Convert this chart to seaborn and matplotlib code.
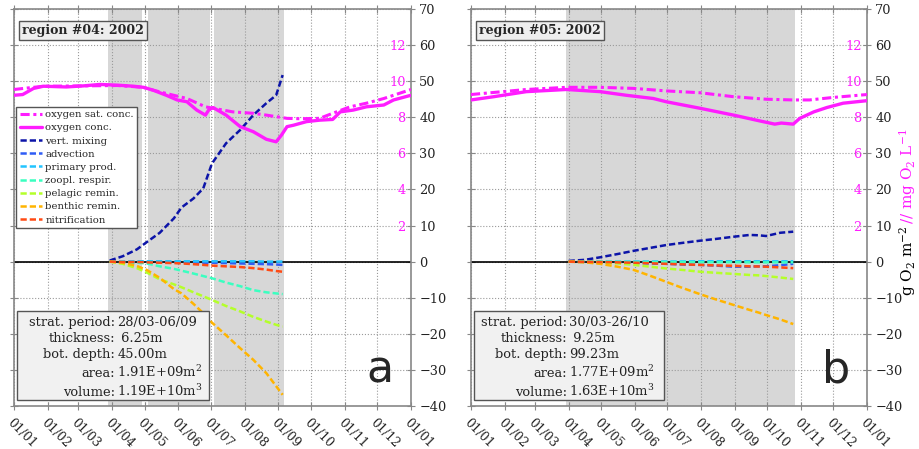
import numpy as np
import pandas as pd
import matplotlib
matplotlib.use("Agg")
import matplotlib.pyplot as plt
import seaborn as sns
from matplotlib.patches import Rectangle

sns.set_style("white")
plt.rcParams["font.family"] = ["DejaVu Serif"]
plt.rcParams["mathtext.fontset"] = "dejavuserif"

# month starts (day of year, 0-based) and tick labels
month_days = [0, 31, 59, 90, 120, 151, 181, 212, 243, 273, 304, 334, 365]
month_labels = ["01/01", "01/02", "01/03", "01/04", "01/05", "01/06", "01/07",
                "01/08", "01/09", "01/10", "01/11", "01/12", "01/01"]

# ---- region #04 ----
r04_conc_day = [0, 8, 18, 27, 48, 64, 79, 95, 110, 119, 128, 140, 150, 159, 168, 176, 179,
                183, 195, 208, 220, 232, 241, 246, 251, 257, 269, 281, 293, 300, 312, 324,
                340, 349, 365]
r04_conc = [46.1, 46.3, 48.0, 48.6, 48.4, 48.7, 49.1, 48.9, 48.6, 48.3, 47.5, 46.1, 44.8,
            44.3, 42.0, 40.6, 42.0, 42.7, 40.6, 37.4, 36.0, 33.9, 33.2, 35.1, 37.4, 37.8,
            38.8, 39.2, 39.4, 41.5, 42.0, 42.9, 43.4, 44.8, 46.1]
r04_sat_day = [0, 18, 27, 64, 95, 119, 128, 140, 159, 176, 201, 220, 232, 251, 263, 281,
               293, 309, 324, 340, 365]
r04_sat = [47.7, 48.3, 48.6, 48.7, 48.8, 48.3, 47.5, 46.6, 45.2, 42.9, 41.5, 41.1, 40.6,
           39.7, 39.6, 39.7, 41.1, 42.9, 43.9, 45.2, 47.7]
r04_day = [88, 100, 113, 122, 134, 147, 154, 165, 174, 182, 195, 208, 220, 232, 241, 247]
r04_mixing = [0.3, 1.5, 3.4, 5.4, 8.0, 12.0, 15.0, 17.5, 20.3, 27.2, 32.8, 36.5, 40.6,
              43.9, 46.1, 51.7]
r04_advection = [0, -0.1, -0.1, -0.1, -0.2, -0.2, -0.2, -0.3, -0.3, -0.3, -0.4, -0.5,
                 -0.6, -0.7, -0.8, -0.9]
r04_primary = [0, 0, 0.1, 0.1, 0.1, 0.1, 0.1, 0.1, 0.1, 0.1, 0.1, 0.1, 0.1, 0.0, 0.0, 0.0]
r04_zoopl = [0, -0.1, -0.3, -0.5, -1.3, -2.0, -2.5, -3.3, -4.0, -4.6, -5.8, -6.8, -7.9,
             -8.5, -8.8, -9.0]
r04_pelagic = [0, -0.6, -1.8, -3.0, -4.9, -6.3, -7.1, -8.5, -9.6, -10.6, -12.3, -13.8,
               -15.3, -16.6, -17.5, -18.0]
r04_benthic = [0, -0.3, -1.2, -2.3, -4.5, -7.6, -8.8, -11.7, -14.3, -16.9, -20.4, -24.0,
               -27.2, -30.9, -34.5, -36.9]
r04_nitrif = [0, -0.1, -0.1, -0.2, -0.3, -0.4, -0.5, -0.7, -0.9, -1.1, -1.3, -1.5, -1.8,
              -2.2, -2.6, -2.8]
r04_strat = [(86, 118), (123, 180), (184, 248)]
r04_info = ["28/03-06/09", " 6.25m", "45.00m", "1.91E+09m$^2$", "1.19E+10m$^3$"]

# ---- region #05 ----
r05_conc_day = [0, 21, 51, 88, 119, 143, 168, 180, 211, 242, 266, 280, 286, 297, 303, 316,
                328, 343, 365]
r05_conc = [44.8, 45.7, 47.1, 47.7, 47.1, 46.1, 45.2, 44.3, 42.5, 40.6, 39.0, 38.1, 38.4,
            38.1, 39.7, 41.5, 42.7, 43.9, 44.6]
r05_sat_day = [0, 51, 88, 119, 150, 180, 211, 242, 272, 297, 312, 334, 365]
r05_sat = [46.3, 47.7, 48.3, 48.3, 48.0, 47.3, 46.8, 45.7, 45.0, 44.8, 44.8, 45.5, 46.3]
r05_day = [90, 105, 119, 135, 150, 165, 180, 195, 211, 226, 242, 257, 265, 272, 285, 297]
r05_mixing = [0.2, 0.5, 1.2, 2.1, 3.0, 3.8, 4.6, 5.2, 5.8, 6.3, 6.9, 7.4, 7.3, 7.1, 8.0, 8.3]
r05_advection = [0, -0.1, -0.2, -0.2, -0.3, -0.5, -0.6, -0.8, -0.9, -1.1, -1.4, -1.4,
                 -1.3, -1.3, -1.0, -0.6]
r05_primary = [0, 0, 0, 0, 0.05, 0.05, 0.05, 0.05, 0.1, 0.1, 0.1, 0.1, 0.1, 0.1, 0.1, 0.1]
r05_zoopl = [0, 0, 0, -0.05, -0.1, -0.1, -0.1, -0.1, -0.15, -0.15, -0.15, -0.2, -0.2,
             -0.2, -0.2, -0.2]
r05_pelagic = [0, -0.1, -0.2, -0.5, -0.9, -1.4, -1.9, -2.3, -2.8, -3.1, -3.4, -3.7, -3.8,
               -4.0, -4.4, -4.8]
r05_benthic = [0, -0.2, -0.6, -1.4, -2.3, -3.9, -5.6, -7.3, -9.0, -10.5, -12.0, -13.4,
               -14.1, -14.8, -16.0, -17.3]
r05_nitrif = [0, -0.05, -0.1, -0.2, -0.3, -0.45, -0.6, -0.75, -0.9, -1.05, -1.15, -1.3,
              -1.35, -1.4, -1.6, -1.8]
r05_strat = [(88, 299)]
r05_info = ["30/03-26/10", " 9.25m", "99.23m", "1.77E+09m$^2$", "1.63E+10m$^3$"]

info_labels = ["strat. period:", "thickness:", "bot. depth:", "area:", "volume:"]
term_names = ["vert. mixing", "advection", "primary prod.", "zoopl. respir.",
              "pelagic remin.", "benthic remin.", "nitrification"]
term_colors = ["#0c14a8", "#2f5cf5", "#22c4ff", "#3affc0", "#b4ff2a", "#ffb400", "#ff4a14"]
magenta = "#ff1cff"


def draw_panel(ax, title, letter, conc_day, conc, sat_day, sat, day, terms, strat, info,
               colon_x, box_x1, legend=False):
    for a, b in strat:
        ax.axvspan(a, b, color="#d7d7d7", lw=0, zorder=0)
    ax.axhline(0, color="black", lw=1.2, zorder=1.5)

    sns.lineplot(x=sat_day, y=sat, ax=ax, color=magenta, lw=2.2,
                 label="oxygen sat. conc.", zorder=3)
    ax.lines[-1].set_dashes([3, 1.2, 1, 1.2])
    sns.lineplot(x=conc_day, y=conc, ax=ax, color=magenta, lw=2.4,
                 label="oxygen conc.", zorder=3)
    for name, col, vals in zip(term_names, term_colors, terms):
        sns.lineplot(x=day, y=vals, ax=ax, color=col, lw=1.8, label=name, zorder=2.5)
        ax.lines[-1].set_dashes([2.5, 1.2])

    ax.set_xlim(0, 365)
    ax.set_ylim(-40, 70)
    ax.set_xticks(month_days)
    ax.set_xticklabels(month_labels, rotation=-45, ha="left", va="top",
                       rotation_mode="anchor", fontsize=8.8, color="#222")
    ax.set_yticks(np.arange(-40, 71, 10))
    ax.yaxis.tick_right()
    ax.tick_params(axis="y", which="both", left=True, right=True, labelleft=False,
                   labelright=True, direction="inout", length=6, color="#888",
                   labelsize=9.3, labelcolor="#222", pad=3)
    ax.tick_params(axis="x", which="both", top=True, bottom=True, direction="inout",
                   length=6, color="#888", pad=4)
    ax.grid(True, linestyle=":", color="#9a9a9a", lw=0.8)
    for s in ax.spines.values():
        s.set_color("#888")
        s.set_linewidth(1.2)

    # magenta concentration scale (mg O2 / L) inside the right edge
    sec = ax.secondary_yaxis("right", functions=(lambda v: v / 5, lambda v: v * 5))
    sec.set_yticks([2, 4, 6, 8, 10, 12])
    sec.yaxis.set_ticks_position("left")
    sec.tick_params(length=0, pad=4, labelcolor=magenta, labelsize=9.3)
    for s in sec.spines.values():
        s.set_visible(False)

    ax.text(0.02, 0.962, title, transform=ax.transAxes, fontsize=9, fontweight="bold",
            va="top", ha="left", zorder=6,
            bbox=dict(boxstyle="square,pad=0.25", fc="#eeeeee", ec="#555", lw=1))

    ax.add_patch(Rectangle((0.008, 0.015), box_x1 - 0.008, 0.224, transform=ax.transAxes,
                           fc="#f1f1f1", ec="#555", lw=1, zorder=5))
    for lab, val, yb in zip(info_labels, info, [0.202, 0.162, 0.122, 0.072, 0.026]):
        ax.text(colon_x, yb, lab, transform=ax.transAxes, ha="right", va="baseline",
                fontsize=9.4, color="#222", zorder=6)
        ax.text(colon_x + 0.006, yb, val, transform=ax.transAxes, ha="left",
                va="baseline", fontsize=9.4, color="#222", zorder=6)

    ax.text(0.922, 0.058, letter, transform=ax.transAxes, ha="center", va="baseline",
            fontsize=32, family="DejaVu Sans", zorder=6)

    if legend:
        leg = ax.legend(loc="upper left", bbox_to_anchor=(0.006, 0.754), fontsize=7.3,
                        frameon=True, fancybox=False, edgecolor="#555", framealpha=1,
                        handlelength=2.2, labelspacing=0.4, borderpad=0.35,
                        handletextpad=0.3, borderaxespad=0)
        leg.get_frame().set_linewidth(1)
        leg.set_zorder(6)
    else:
        ax.get_legend().remove()


fig = plt.figure(figsize=(9.2, 4.49), dpi=100)
ax1 = fig.add_axes([14 / 920, 1 - 406 / 449, 397 / 920, 397 / 449])
ax2 = fig.add_axes([471 / 920, 1 - 406 / 449, 396 / 920, 397 / 449])

draw_panel(ax1, "region #04: 2002", "a", r04_conc_day, r04_conc, r04_sat_day, r04_sat,
           r04_day, [r04_mixing, r04_advection, r04_primary, r04_zoopl, r04_pelagic,
                     r04_benthic, r04_nitrif],
           r04_strat, r04_info, colon_x=0.254, box_x1=0.491, legend=True)
draw_panel(ax2, "region #05: 2002", "b", r05_conc_day, r05_conc, r05_sat_day, r05_sat,
           r05_day, [r05_mixing, r05_advection, r05_primary, r05_zoopl, r05_pelagic,
                     r05_benthic, r05_nitrif],
           r05_strat, r05_info, colon_x=0.242, box_x1=0.487)

# right axis label in two colours
fig.text(0.986, 0.497, r"g O$_2$ m$^{-2}$", rotation=90, ha="center", va="top",
         fontsize=11, color="black")
fig.text(0.986, 0.502, r"// mg O$_2$ L$^{-1}$", rotation=90, ha="center", va="bottom",
         fontsize=11, color=magenta)

fig.savefig("out.png", dpi=100)
